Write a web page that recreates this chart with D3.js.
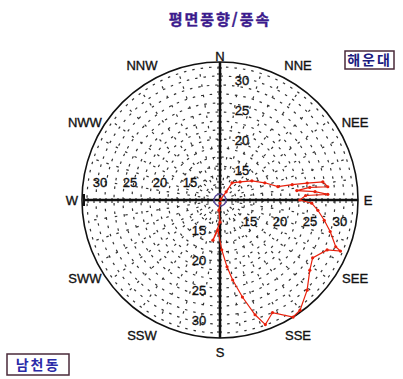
<!DOCTYPE html>
<html lang="ko">
<head>
    <meta charset="UTF-8">
    <title>평면풍향/풍속</title>
    <script src="https://d3js.org/d3.v7.min.js"></script>
    <style>
        body { margin: 0; background: #fff; }
        text { font-family: "Liberation Sans", Arial, sans-serif; }
        .kr { font-family: "Noto Sans CJK KR", sans-serif; }
    </style>
</head>
<body>
    <svg id="chart"></svg>
    <script>
        // wind direction (deg, clockwise from N) and speed along the track
        const dirs = [45, 37, 35, 48, 59, 69, 77, 78, 79, 80, 83, 82, 83, 85, 87, 87, 90, 92, 96, 101,
            106, 112, 113, 115, 122, 128, 136, 144, 148, 155, 160, 163, 167, 171, 174, 178, 184, 190, 180, 186, 180];
        const speeds = [10.2, 11.7, 13.5, 14.5, 16.2, 18.0, 19.9, 22.3, 24.8, 27.4, 28.1, 25.1, 22.9, 25.9, 28.0, 24.3, 23.3, 25.3, 26.4, 27.7,
            29.1, 30.8, 31.8, 29.7, 28.2, 29.0, 30.9, 32.7, 33.0, 30.7, 32.1, 30.0, 26.6, 23.5, 21.2, 18.3, 15.0, 16.8, 13.7, 11.7, 10.5];
        const tickValues = [15, 20, 25, 30];
        const compass = ['N', 'NNE', 'NEE', 'E', 'SEE', 'SSE', 'S', 'SSW', 'SWW', 'W', 'NWW', 'NNW'];

        const width = 403, height = 379;
        const cx = 220, cy = 200, R = 138;

        const svg = d3.select('#chart').attr('width', width).attr('height', height);

        const r = d3.scaleLinear().domain([10, 33]).range([0, R]);

        svg.append('text')
            .attr('class', 'kr')
            .attr('x', 220).attr('y', 25)
            .attr('text-anchor', 'middle')
            .attr('font-size', 15).attr('font-weight', 'bold')
            .attr('letter-spacing', 2)
            .attr('fill', '#3b1a8c').attr('stroke', '#3b1a8c').attr('stroke-width', 0.4)
            .text('평면풍향/풍속');

        const g = svg.append('g').attr('transform', `translate(${cx},${cy})`);

        // dotted background net
        const grid = g.append('g').attr('stroke', '#333').attr('fill', 'none').attr('stroke-width', 1.2);
        d3.range(16, R - 2, 9).forEach((rr, i) => {
            grid.append('circle').attr('r', rr)
                .attr('stroke-dasharray', '2.5,6')
                .attr('stroke-dashoffset', i * 3);
        });
        d3.range(0, 360, 9).forEach((a, i) => {
            const t = a * Math.PI / 180;
            const r0 = i % 2 ? 20 : 12;
            grid.append('line')
                .attr('x1', r0 * Math.sin(t)).attr('y1', -r0 * Math.cos(t))
                .attr('x2', (R - 3) * Math.sin(t)).attr('y2', -(R - 3) * Math.cos(t))
                .attr('stroke-dasharray', '2.5,8');
        });

        g.append('circle').attr('r', R).attr('fill', 'none').attr('stroke', '#111').attr('stroke-width', 1.6);

        // axes
        const axes = g.append('g').attr('stroke', '#111');
        axes.append('line').attr('x1', -R + 2).attr('x2', R).attr('y1', 0).attr('y2', 0).attr('stroke-width', 2.5);
        axes.append('line').attr('y1', -R).attr('y2', R).attr('x1', 0).attr('x2', 0).attr('stroke-width', 2.5);
        axes.append('line').attr('x1', -R + 2).attr('x2', -R + 2).attr('y1', -6).attr('y2', 6).attr('stroke-width', 2);

        const minor = d3.range(11, 33);
        minor.forEach(v => {
            const d = r(v);
            [d, -d].forEach(x => {
                axes.append('line').attr('x1', x).attr('x2', x).attr('y1', -2).attr('y2', 3).attr('stroke-width', 1);
            });
            [d, -d].forEach(y => {
                axes.append('line').attr('y1', y).attr('y2', y).attr('x1', -3).attr('x2', 2).attr('stroke-width', 1);
            });
        });

        const lbl = g.append('g').attr('font-size', 13).attr('fill', '#111')
            .attr('stroke', '#111').attr('stroke-width', 0.35).attr('text-anchor', 'middle');
        tickValues.forEach(v => {
            const d = r(v);
            lbl.append('text').attr('x', d).attr('y', 26).text(v);
            lbl.append('text').attr('x', -d).attr('y', -13).text(v);
            lbl.append('text').attr('x', 22).attr('y', -d + 5).text(v);
            lbl.append('text').attr('x', -21).attr('y', d + 5).text(v);
        });

        // compass labels
        compass.forEach((name, i) => {
            const a = i * 30;
            const t = a * Math.PI / 180;
            let rr = a % 90 === 0 ? 148 : 156;
            let x = rr * Math.sin(t), y = -rr * Math.cos(t);
            if (a === 0) y = -144;
            if (a === 180) y = 152;
            lbl.append('text').attr('x', x).attr('y', y + 5).attr('font-size', 13).text(name);
        });

        // small ring around calm centre
        g.append('circle').attr('r', 6).attr('fill', 'none').attr('stroke', '#5a4a9a').attr('stroke-width', 1.5);

        // wind track
        const pts = dirs.map((d, i) => ({ dir: d, spd: speeds[i] }));
        const line = d3.lineRadial()
            .angle(d => d.dir * Math.PI / 180)
            .radius(d => r(d.spd));
        g.append('path').datum(pts)
            .attr('d', line)
            .attr('fill', 'none').attr('stroke', '#e8200c').attr('stroke-width', 1.2);
        g.selectAll('.pt').data(pts).enter().append('circle')
            .attr('class', 'pt')
            .attr('cx', d => r(d.spd) * Math.sin(d.dir * Math.PI / 180))
            .attr('cy', d => -r(d.spd) * Math.cos(d.dir * Math.PI / 180))
            .attr('r', 1.6).attr('fill', '#e8200c');

        // station boxes
        function stationBox(x, y, w, h, name, color) {
            svg.append('rect').attr('x', x).attr('y', y).attr('width', w).attr('height', h)
                .attr('fill', '#fff').attr('stroke', '#4a2a3a').attr('stroke-width', 1.5);
            svg.append('text').attr('class', 'kr')
                .attr('x', x + w / 2).attr('y', y + h / 2 + 5)
                .attr('text-anchor', 'middle').attr('font-size', 14).attr('font-weight', 'bold')
                .attr('letter-spacing', 2)
                .attr('fill', color).text(name);
        }
        stationBox(345, 51, 49, 18, '해운대', '#1c1c80');
        stationBox(7, 354, 62, 21, '남천동', '#2a2aa8');
    </script>
</body>
</html>
